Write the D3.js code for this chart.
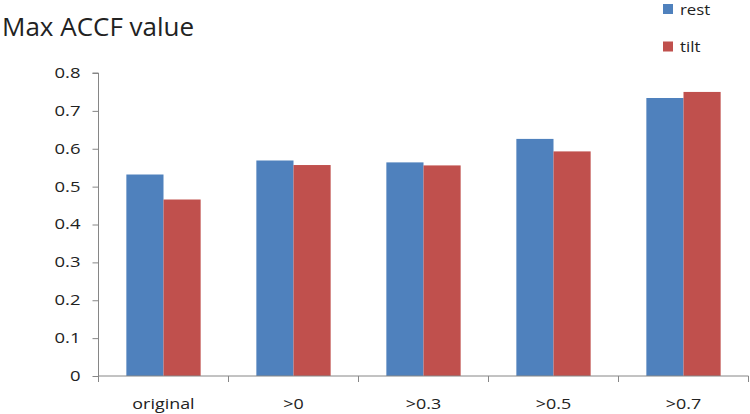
<!DOCTYPE html>
<html><head><meta charset="utf-8">
<script src="https://cdn.jsdelivr.net/npm/d3@7"></script>
<style>body{margin:0;background:#fff}svg{display:block}</style>
</head><body>
<svg id="c" width="750" height="414"></svg>
<script>
const categories = ["original", ">0", ">0.3", ">0.5", ">0.7"];
const seriesNames = ["rest", "tilt"];
const rest = [0.532, 0.569, 0.564, 0.626, 0.734];
const tilt = [0.466, 0.557, 0.556, 0.593, 0.750];
const yTicks = [0, 0.1, 0.2, 0.3, 0.4, 0.5, 0.6, 0.7, 0.8];
const colors = ["#4F81BD", "#C0504D"];

const svg = d3.select("#c");
const font = "'Open Sans', 'Noto Sans', sans-serif";
const mLeft = 98.5, mRight = 748.5, mTop = 73, mBottom = 376;
const SX = 1.28; // horizontal stretch of the small labels, as in the reference

function stretch(sel, sx) {
  sel.each(function() {
    const t = d3.select(this);
    const ax = +t.attr("x") || 0;
    t.attr("transform", `translate(${ax},0) scale(${sx},1) translate(${-ax},0)`);
  });
}

const x = d3.scaleBand().domain(categories).range([mLeft, mRight]).paddingInner(0).paddingOuter(0);
const y = d3.scaleLinear().domain([0, 0.8]).range([mBottom, mTop]);
const bw = x.bandwidth() / 3.5;
const xs = d3.scaleBand().domain(seriesNames).range([x.bandwidth()/2 - bw, x.bandwidth()/2 + bw]);

const data = [rest, tilt];
seriesNames.forEach((s, si) => {
  svg.append("g").selectAll("rect").data(categories).join("rect")
    .attr("x", (c) => x(c) + xs(s))
    .attr("width", xs.bandwidth())
    .attr("y", (c, i) => y(data[si][i]))
    .attr("height", (c, i) => y(0) - y(data[si][i]))
    .attr("fill", colors[si]);
});

// y axis
const ya = svg.append("g").attr("transform", `translate(${mLeft},0)`)
  .call(d3.axisLeft(y).tickValues(yTicks).tickFormat(d => d === 0 ? "0" : d3.format(".1f")(d)).tickSize(6).tickPadding(12));
ya.select(".domain").attr("stroke", "#868686").attr("d", `M-6,${mTop}H0V${mBottom}`);
ya.selectAll(".tick line").attr("stroke", "#868686");
ya.selectAll("text").attr("font-family", font).attr("font-size", 14).attr("fill", "#222");
stretch(ya.selectAll("text"), 1.32);

// x axis
const xa = svg.append("g").attr("transform", `translate(0,${mBottom})`);
xa.append("line").attr("x1", mLeft).attr("x2", mRight).attr("stroke", "#868686");
const xTickPos = categories.map(c => x(c)).concat([mRight]);
xa.selectAll("line.t").data(xTickPos).join("line").attr("class", "t")
  .attr("x1", d => d).attr("x2", d => d).attr("y1", 0).attr("y2", 6).attr("stroke", "#868686");
xa.selectAll("text").data(categories).join("text")
  .attr("x", c => x(c) + x.bandwidth()/2).attr("y", 33)
  .attr("text-anchor", "middle").attr("font-family", font).attr("font-size", 14).attr("fill", "#222")
  .text(c => c);
stretch(xa.selectAll("text"), SX);

// title
svg.append("text").attr("x", 2).attr("y", 36).attr("font-family", font).attr("font-size", 26).attr("fill", "#222").text("Max ACCF value");

// legend
const lg = svg.append("g");
seriesNames.forEach((s, i) => {
  lg.append("rect").attr("x", 663).attr("y", 4 + i*37.5).attr("width", 10).attr("height", 10).attr("fill", colors[i]);
  const t = lg.append("text").attr("x", 680).attr("y", 14.5 + i*37.5).attr("font-family", font).attr("font-size", 14).attr("fill", "#222").text(s);
  stretch(t, 1.2);
});
</script>
</body></html>
